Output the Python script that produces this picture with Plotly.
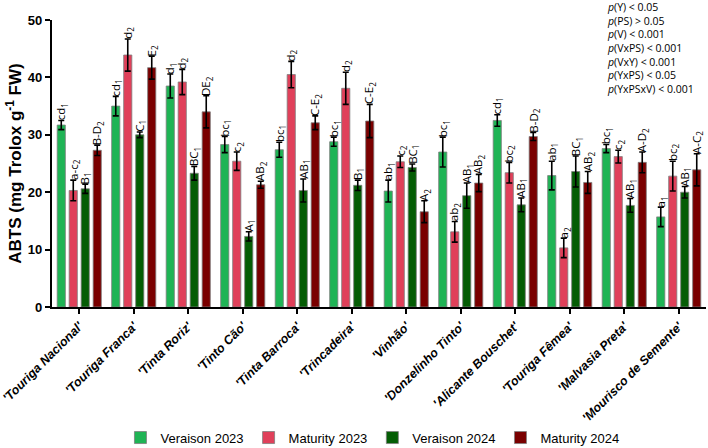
import plotly.graph_objects as go

cultivars = ["'Touriga Nacional'", "'Touriga Franca'", "'Tinta Roriz'", "'Tinto Cão'",
             "'Tinta Barroca'", "'Trincadeira'", "'Vinhão'", "'Donzelinho Tinto'",
             "'Alicante Bouschet'", "'Touriga Fêmea'", "'Malvasia Preta'", "'Mourisco de Semente'"]

ver23 = [31.7, 35.0, 38.5, 28.3, 27.4, 28.8, 20.2, 27.0, 32.5, 22.9, 27.6, 15.7]
ver23_err = [0.8, 1.7, 2.1, 1.4, 1.3, 0.8, 1.9, 2.6, 1.0, 2.5, 0.7, 1.7]
ver23_lbl = ["cd<sub>1</sub>", "cd<sub>1</sub>", "d<sub>1</sub>", "bc<sub>1</sub>", "bc<sub>1</sub>", "bc<sub>1</sub>",
             "ab<sub>1</sub>", "bc<sub>1</sub>", "cd<sub>1</sub>", "ab<sub>1</sub>", "bc<sub>1</sub>", "a<sub>1</sub>"]

mat23 = [20.3, 43.9, 39.2, 25.4, 40.5, 38.1, 25.3, 13.1, 23.4, 10.3, 26.2, 22.8]
mat23_err = [1.8, 2.8, 2.2, 1.6, 2.3, 2.8, 1.0, 1.8, 1.8, 1.7, 1.1, 2.6]
mat23_lbl = ["a-c<sub>2</sub>", "d<sub>2</sub>", "d<sub>2</sub>", "c<sub>2</sub>", "d<sub>2</sub>", "d<sub>2</sub>",
             "c<sub>2</sub>", "ab<sub>2</sub>", "bc<sub>2</sub>", "a<sub>2</sub>", "c<sub>2</sub>", "bc<sub>2</sub>"]

ver24 = [20.6, 30.0, 23.3, 12.3, 20.3, 21.2, 24.3, 19.4, 17.8, 23.6, 17.7, 20.0]
ver24_err = [0.8, 0.5, 1.2, 0.8, 2.0, 0.9, 0.6, 2.2, 1.2, 2.7, 1.2, 1.0]
ver24_lbl = ["B<sub>1</sub>", "C<sub>1</sub>", "BC<sub>1</sub>", "A<sub>1</sub>", "AB<sub>1</sub>", "B<sub>1</sub>",
             "BC<sub>1</sub>", "AB<sub>1</sub>", "AB<sub>1</sub>", "BC<sub>1</sub>", "AB<sub>1</sub>", "AB<sub>1</sub>"]

mat24 = [27.3, 41.7, 34.0, 21.3, 32.1, 32.4, 16.6, 21.6, 29.7, 21.7, 25.2, 23.9]
mat24_err = [0.9, 2.0, 2.8, 0.6, 1.2, 2.9, 1.9, 1.5, 0.7, 1.9, 1.8, 2.8]
mat24_lbl = ["B-D<sub>2</sub>", "E<sub>2</sub>", "DE<sub>2</sub>", "AB<sub>2</sub>", "C-E<sub>2</sub>", "C-E<sub>2</sub>",
             "A<sub>2</sub>", "AB<sub>2</sub>", "B-D<sub>2</sub>", "AB<sub>2</sub>", "A-D<sub>2</sub>", "A-C<sub>2</sub>"]

series_names = ["Veraison 2023", "Maturity 2023", "Veraison 2024", "Maturity 2024"]
pvals = ["<i>p</i>(Y) < 0.05", "<i>p</i>(PS) > 0.05", "<i>p</i>(V) < 0.001", "<i>p</i>(VxPS) < 0.001",
         "<i>p</i>(VxY) < 0.001", "<i>p</i>(YxPS) < 0.05", "<i>p</i>(YxPSxV) < 0.001"]

colors = ["#1fb455", "#e0405a", "#045d04", "#7a0000"]
offsets = [-0.33, -0.11, 0.11, 0.33]
bw = 0.15

data = [(ver23, ver23_err, ver23_lbl), (mat23, mat23_err, mat23_lbl),
        (ver24, ver24_err, ver24_lbl), (mat24, mat24_err, mat24_lbl)]

xs = list(range(len(cultivars)))
fig = go.Figure()
annotations = []
for k, (vals, errs, lbls) in enumerate(data):
    xpos = [x + offsets[k] for x in xs]
    fig.add_trace(go.Bar(
        x=xpos, y=vals, width=bw, name=series_names[k],
        marker=dict(color=colors[k], line=dict(color="#7f7f7f", width=0.8)),
        error_y=dict(type="data", array=errs, visible=True, color="black", thickness=1.6, width=3),
    ))
    for xp, v, e, l in zip(xpos, vals, errs, lbls):
        annotations.append(dict(x=xp, y=v + e, xref="x", yref="y", text=l, showarrow=False,
                                textangle=-90, xanchor="center", yanchor="bottom",
                                font=dict(family="Open Sans, Arial, sans-serif", size=11.5, color="black"),
                                borderpad=0, yshift=-1))

annotations.append(dict(x=0.845, y=1.075, xref="paper", yref="paper", xanchor="left", yanchor="top",
                        align="left", showarrow=False, text="<br>".join(pvals),
                        font=dict(family="Open Sans, Arial, sans-serif", size=10.5, color="black")))

fig.update_layout(
    width=708, height=448,
    margin=dict(l=52, r=2, t=20, b=141, autoexpand=False),
    plot_bgcolor="white", paper_bgcolor="white",
    showlegend=True,
    legend=dict(orientation="h", x=0.49, xanchor="center", y=-0.455, yanchor="middle",
                font=dict(family="Liberation Sans, Arial, sans-serif", size=13, color="black"),
                itemwidth=30, traceorder="normal"),
    annotations=annotations,
    bargap=0.1,
)
fig.update_xaxes(range=[-0.5, 11.5], tickvals=xs, ticktext=cultivars, tickangle=-45,
                 tickfont=dict(family="Liberation Sans, Arial, sans-serif", size=12.5, color="black",
                               weight="bold", style="italic"),
                 ticklabeloverflow="allow", automargin=False,
                 showline=True, linecolor="black", linewidth=2.2, ticks="outside", ticklen=5,
                 tickwidth=2, tickcolor="black", showgrid=False, zeroline=False)
fig.update_yaxes(range=[0, 50], tickvals=[0, 10, 20, 30, 40, 50], automargin=False,
                 tickfont=dict(family="Liberation Sans, Arial, sans-serif", size=13, color="black", weight="bold"),
                 title=dict(text="ABTS (mg Trolox g<sup>-1</sup> FW)",
                            font=dict(family="Liberation Sans, Arial, sans-serif", size=17, color="black", weight="bold"),
                            standoff=2),
                 showline=True, linecolor="black", linewidth=2.2, ticks="outside", ticklen=5,
                 tickwidth=2, tickcolor="black", showgrid=False, zeroline=False)

fig.write_html("out.html")
